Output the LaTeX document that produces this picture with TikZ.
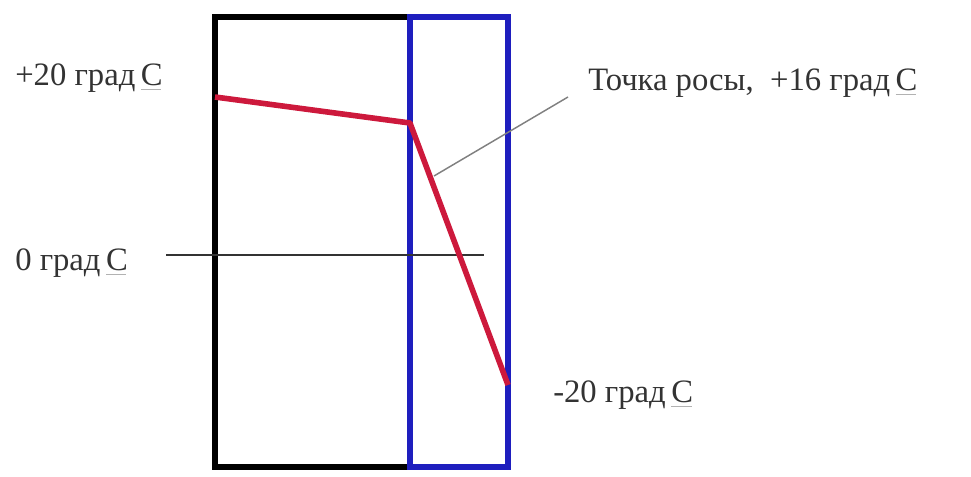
\documentclass[tikz,border=0pt]{standalone}
\usepackage{fontspec}
\setmainfont{Liberation Serif}
\usetikzlibrary{positioning}
\newcommand{\gradC}{град\,\rlap{\color{gray!60}\rule[-3pt]{0.62em}{0.6pt}}С}
\tikzset{
  wall/.style  = {draw=black, line width=4.5pt},
  layer/.style = {draw={rgb,255:red,30;green,30;blue,190}, line width=4.5pt},
  curve/.style = {draw={rgb,255:red,205;green,25;blue,60}, line width=4.2pt, line join=round},
  lead/.style  = {draw=gray, line width=1.1pt},
  zero/.style  = {draw=black!80, line width=0.9pt},
  lbl/.style   = {font=\fontsize{24.5}{27}\selectfont, text=black!80, inner sep=0pt, anchor=west},
}
\begin{document}
\begin{tikzpicture}[x=0.75pt,y=-0.75pt]
  \useasboundingbox (0,0) rectangle (971,477);
  % wall and insulation layer
  \draw[wall] (410,17) -- (215,17) -- (215,467) -- (410,467);
  \draw[layer] (410,17) rectangle (508,467);
  % labels
  \node[lbl] (t20) at (15,78) {+20 \gradC};
  \node[lbl] (dew) at (588,83) {Точка росы,\ \ +16\ \gradC};
  \node[lbl] (t0) at (15,263) {0 \gradC};
  \node[lbl] (tm20) at (553,395) {-20 \gradC};
  % zero level
  \coordinate (z1) at (166,255);
  \coordinate (z2) at (484,255);
  \draw[zero] (z1) -- (z2);
  % temperature curve
  \coordinate (in) at (215,97);
  \coordinate (knee) at (410,123);
  \coordinate (out) at (508,385);
  \draw[curve] (in) -- (knee) -- (out);
  % dew point pointer
  \coordinate (dp) at (434,176);
  \coordinate (dq) at (568,97);
  \draw[lead] (dp) -- (dq);
\end{tikzpicture}
\end{document}
